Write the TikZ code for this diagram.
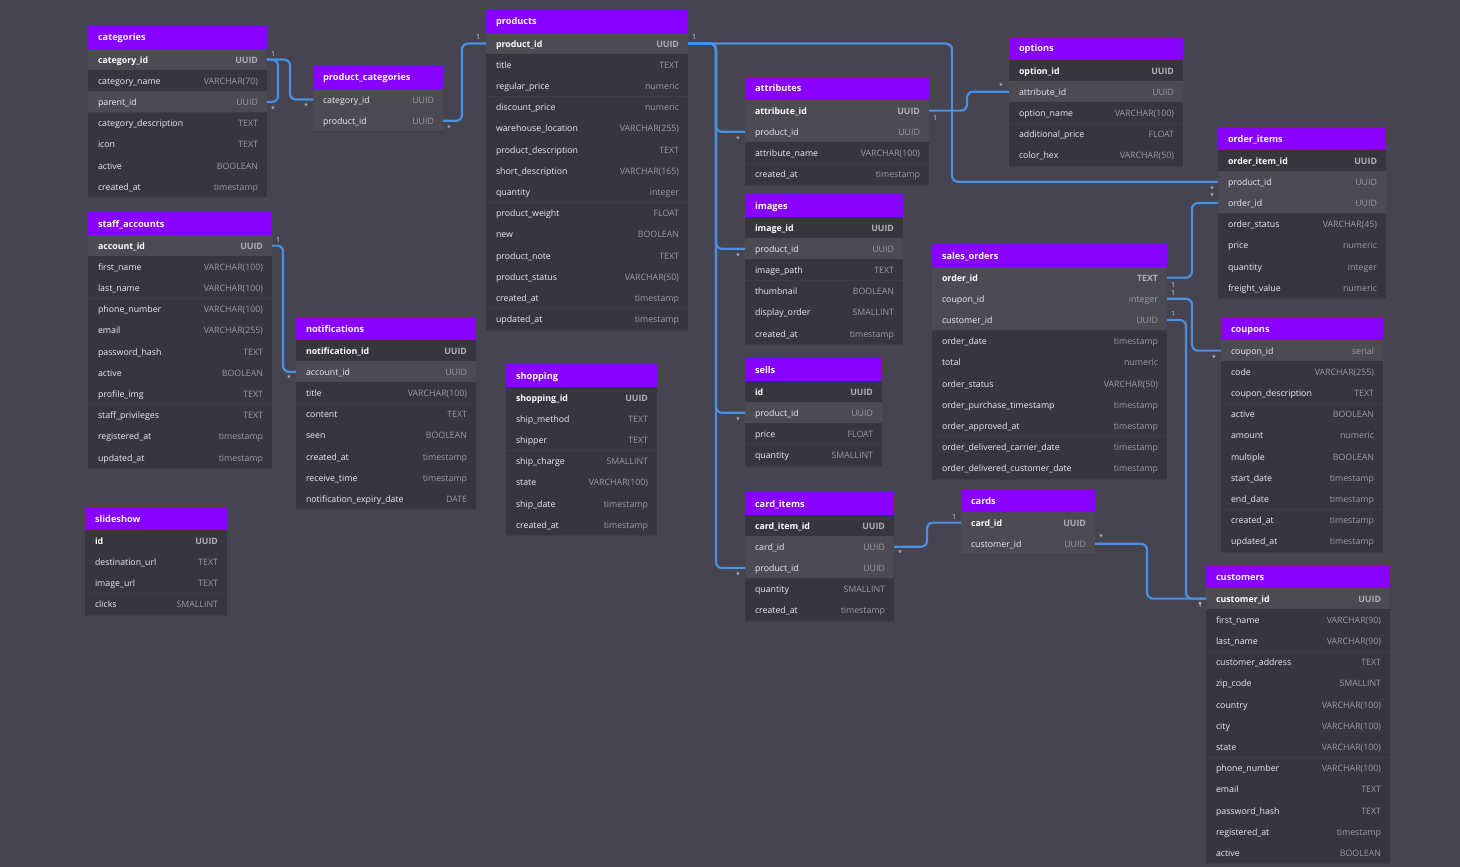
\documentclass[tikz,border=0pt]{standalone}
\usepackage{fontspec}
\setmainfont{Open Sans}
\definecolor{bgc}{RGB}{70,68,80}
\definecolor{rowc}{RGB}{55,54,63}
\definecolor{hlc}{RGB}{76,75,84}
\definecolor{sepc}{RGB}{62,61,70}
\definecolor{hdrc}{RGB}{136,0,255}
\definecolor{connc}{RGB}{74,144,226}
\definecolor{nmc}{RGB}{236,236,240}
\definecolor{tpc}{RGB}{155,155,163}
\definecolor{lblc}{RGB}{215,215,220}
\newcommand\fsr{\fontsize{8.8}{10}\selectfont}
\newcommand\fsh{\fontsize{9.2}{10}\selectfont\bfseries}
\tikzset{
  rowbase/.style={rectangle, anchor=north west, minimum height=21.2pt, inner sep=0pt, outer sep=0pt},
  rown/.style={rowbase, fill=rowc},
  rowh/.style={rowbase, fill=hlc},
  rowb/.style={rowbase, fill=rowc},
  rowx/.style={rowbase, fill=hlc},
  txtbase/.style={inner sep=0pt, outer sep=0pt, text height=7.2pt, text depth=0.2pt},
  nmn/.style={txtbase, text=nmc, font=\fsr},
  nmh/.style={txtbase, text=nmc, font=\fsr},
  nmb/.style={txtbase, text=white, font=\fsr\bfseries},
  nmx/.style={txtbase, text=white, font=\fsr\bfseries},
  tpn/.style={txtbase, text=tpc, font=\fsr},
  tph/.style={txtbase, text=tpc, font=\fsr},
  tpb/.style={txtbase, text=tpc!80!white, font=\fsr\bfseries},
  tpx/.style={txtbase, text=tpc!80!white, font=\fsr\bfseries},
  hdr/.style={rectangle, anchor=north west, fill=hdrc, minimum height=23pt, inner sep=0pt, outer sep=0pt},
  hdrtext/.style={txtbase, anchor=west, text=white, font=\fsh},
  sepline/.style={draw=sepc, line width=0.6pt},
  conn/.style={draw=connc, line width=2.2pt, rounded corners=6pt},
  card/.style={inner sep=0pt, text=lblc, font=\fontsize{7}{8}\selectfont},
}
\newcommand\erTable[6]{%
  \node[hdr, minimum width=#4pt] (#1) at (#2,#3) {};
  \node[hdrtext] (#1-title) at ([xshift=10pt]#1.west) {#5};
  \foreach \fn/\ft/\st [count=\i from 0] in {#6}{%
    \node[row\st, minimum width=#4pt] (#1-\fn) at (#2,#3+23+\i*21.2) {};
    \draw[sepline] (#1-\fn.south west) -- (#1-\fn.south east);
    \node[nm\st, anchor=west] (#1-\fn-n) at ([xshift=10pt]#1-\fn.west) {\fn};
    \node[tp\st, anchor=east] (#1-\fn-t) at ([xshift=-9pt]#1-\fn.east) {\ft};
  }%
}
\begin{document}
\catcode`\_=12
\begin{tikzpicture}[x=1pt,y=-1pt]
\fill[bgc] (0,0) rectangle (1460,867);
\useasboundingbox (0,0) rectangle (1460,867);

\erTable{cat}{88}{26}{179}{categories}{category_id/UUID/x,category_name/VARCHAR(70)/n,parent_id/UUID/h,category_description/TEXT/n,icon/TEXT/n,active/BOOLEAN/n,created_at/timestamp/n}
\erTable{pc}{313}{66}{130}{product_categories}{category_id/UUID/h,product_id/UUID/h}
\erTable{prod}{486}{10}{202}{products}{product_id/UUID/x,title/TEXT/n,regular_price/numeric/n,discount_price/numeric/n,warehouse_location/VARCHAR(255)/n,product_description/TEXT/n,short_description/VARCHAR(165)/n,quantity/integer/n,product_weight/FLOAT/n,new/BOOLEAN/n,product_note/TEXT/n,product_status/VARCHAR(50)/n,created_at/timestamp/n,updated_at/timestamp/n}
\erTable{staff}{88}{212}{184}{staff_accounts}{account_id/UUID/x,first_name/VARCHAR(100)/n,last_name/VARCHAR(100)/n,phone_number/VARCHAR(100)/n,email/VARCHAR(255)/n,password_hash/TEXT/n,active/BOOLEAN/n,profile_img/TEXT/n,staff_privileges/TEXT/n,registered_at/timestamp/n,updated_at/timestamp/n}
\erTable{notif}{296}{317}{180}{notifications}{notification_id/UUID/b,account_id/UUID/h,title/VARCHAR(100)/n,content/TEXT/n,seen/BOOLEAN/n,created_at/timestamp/n,receive_time/timestamp/n,notification_expiry_date/DATE/n}
\erTable{slide}{85}{507}{142}{slideshow}{id/UUID/b,destination_url/TEXT/n,image_url/TEXT/n,clicks/SMALLINT/n}
\erTable{shop}{506}{364}{151}{shopping}{shopping_id/UUID/b,ship_method/TEXT/n,shipper/TEXT/n,ship_charge/SMALLINT/n,state/VARCHAR(100)/n,ship_date/timestamp/n,created_at/timestamp/n}
\erTable{attr}{745}{77}{184}{attributes}{attribute_id/UUID/x,product_id/UUID/h,attribute_name/VARCHAR(100)/n,created_at/timestamp/n}
\erTable{img}{745}{194}{158}{images}{image_id/UUID/b,product_id/UUID/h,image_path/TEXT/n,thumbnail/BOOLEAN/n,display_order/SMALLINT/n,created_at/timestamp/n}
\erTable{sells}{745}{358}{137}{sells}{id/UUID/b,product_id/UUID/h,price/FLOAT/n,quantity/SMALLINT/n}
\erTable{ci}{745}{492}{149}{card_items}{card_item_id/UUID/b,card_id/UUID/h,product_id/UUID/h,quantity/SMALLINT/n,created_at/timestamp/n}
\erTable{cards}{961}{489}{134}{cards}{card_id/UUID/x,customer_id/UUID/h}
\erTable{opt}{1009}{37}{174}{options}{option_id/UUID/b,attribute_id/UUID/h,option_name/VARCHAR(100)/n,additional_price/FLOAT/n,color_hex/VARCHAR(50)/n}
\erTable{so}{932}{244}{235}{sales_orders}{order_id/TEXT/x,coupon_id/integer/h,customer_id/UUID/h,order_date/timestamp/n,total/numeric/n,order_status/VARCHAR(50)/n,order_purchase_timestamp/timestamp/n,order_approved_at/timestamp/n,order_delivered_carrier_date/timestamp/n,order_delivered_customer_date/timestamp/n}
\erTable{oi}{1218}{127}{168}{order_items}{order_item_id/UUID/b,product_id/UUID/h,order_id/UUID/h,order_status/VARCHAR(45)/n,price/numeric/n,quantity/integer/n,freight_value/numeric/n}
\erTable{coup}{1221}{317}{162}{coupons}{coupon_id/serial/h,code/VARCHAR(255)/n,coupon_description/TEXT/n,active/BOOLEAN/n,amount/numeric/n,multiple/BOOLEAN/n,start_date/timestamp/n,end_date/timestamp/n,created_at/timestamp/n,updated_at/timestamp/n}
\erTable{cust}{1206}{565}{184}{customers}{customer_id/UUID/x,first_name/VARCHAR(90)/n,last_name/VARCHAR(90)/n,customer_address/TEXT/n,zip_code/SMALLINT/n,country/VARCHAR(100)/n,city/VARCHAR(100)/n,state/VARCHAR(100)/n,phone_number/VARCHAR(100)/n,email/TEXT/n,password_hash/TEXT/n,registered_at/timestamp/n,active/BOOLEAN/n}

% connectors
\draw[conn] (cat-category_id.east) -- ++(11,0) |- (cat-parent_id.east);
\draw[conn] (cat-category_id.east) -- ++(23,0) |- (pc-category_id.west);
\draw[conn] (pc-product_id.east) -- ++(19,0) |- (prod-product_id.west);
\draw[conn] (prod-product_id.east) -- ++(28,0) |- (attr-product_id.west);
\draw[conn] (prod-product_id.east) -- ++(28,0) |- (img-product_id.west);
\draw[conn] (prod-product_id.east) -- ++(28,0) |- (sells-product_id.west);
\draw[conn] (prod-product_id.east) -- ++(28,0) |- (ci-product_id.west);
\draw[conn] (prod-product_id.east) -- ++(264,0) |- (oi-product_id.west);
\draw[conn] (attr-attribute_id.east) -- ++(38,0) |- (opt-attribute_id.west);
\draw[conn] (staff-account_id.east) -- ++(11,0) |- (notif-account_id.west);
\draw[conn] (so-order_id.east) -- ++(25,0) |- (oi-order_id.west);
\draw[conn] (so-coupon_id.east) -- ++(25,0) |- (coup-coupon_id.west);
\draw[conn] (so-customer_id.east) -- ++(19,0) |- (cust-customer_id.west);
\draw[conn] (ci-card_id.east) -- ++(33,0) |- (cards-card_id.west);
\draw[conn] (cards-customer_id.east) -- ++(52,0) |- (cust-customer_id.west);

% cardinality labels
\node[card] (l1) at ([shift={(6,-6)}]cat-category_id.east) {1};
\node[card] (l2) at ([shift={(6,7)}]cat-parent_id.east) {*};
\node[card] (l3) at ([shift={(-7,6)}]pc-category_id.west) {*};
\node[card] (l4) at ([shift={(6,7)}]pc-product_id.east) {*};
\node[card] (l5) at ([shift={(-8,-7)}]prod-product_id.west) {1};
\node[card] (l6) at ([shift={(6,-7)}]prod-product_id.east) {1};
\node[card] (l7) at ([shift={(-7,7)}]attr-product_id.west) {*};
\node[card] (l8) at ([shift={(-7,7)}]img-product_id.west) {*};
\node[card] (l9) at ([shift={(-7,7)}]sells-product_id.west) {*};
\node[card] (l10) at ([shift={(-7,7)}]ci-product_id.west) {*};
\node[card] (l11) at ([shift={(-6,7)}]oi-product_id.west) {*};
\node[card] (l12) at ([shift={(-6,-7)}]oi-order_id.west) {*};
\node[card] (l13) at ([shift={(6,7)}]attr-attribute_id.east) {1};
\node[card] (l14) at ([shift={(-8,-6)}]opt-attribute_id.west) {*};
\node[card] (l15) at ([shift={(6,-6)}]staff-account_id.east) {1};
\node[card] (l16) at ([shift={(-7,6)}]notif-account_id.west) {*};
\node[card] (l17) at ([shift={(6,7)}]so-order_id.east) {1};
\node[card] (l18) at ([shift={(6,-6)}]so-coupon_id.east) {1};
\node[card] (l19) at ([shift={(6,-6)}]so-customer_id.east) {1};
\node[card] (l20) at ([shift={(-7,7)}]coup-coupon_id.west) {*};
\node[card] (l21) at ([shift={(6,6)}]ci-card_id.east) {*};
\node[card] (l22) at ([shift={(-7,-6)}]cards-card_id.west) {1};
\node[card] (l23) at ([shift={(6,-7)}]cards-customer_id.east) {*};
\node[card] (l24) at ([shift={(-6,6)}]cust-customer_id.west) {*};
\node[card] (l25) at ([shift={(-6,6)}]cust-customer_id.west) {1};
\end{tikzpicture}
\end{document}
